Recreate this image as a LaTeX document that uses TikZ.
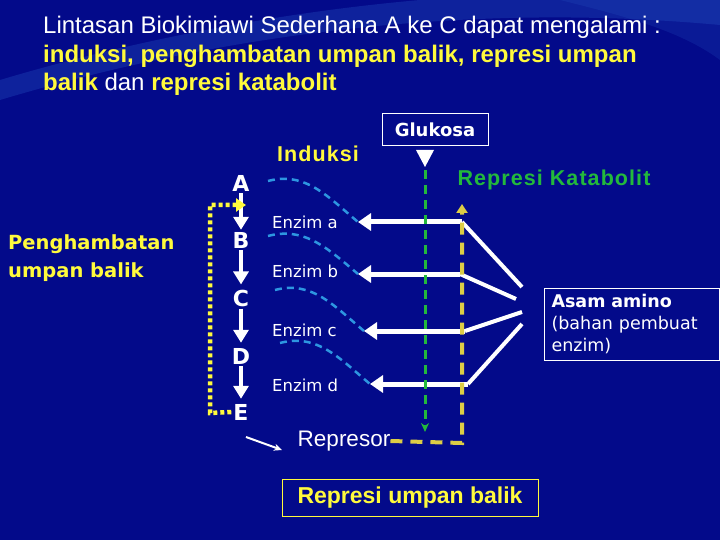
\documentclass[tikz,border=0pt]{standalone}
\usepackage{fontspec}
\setmainfont{Liberation Sans}
\newfontfamily\verd{DejaVu Sans}
\newfontfamily\wide[LetterSpace=5]{Liberation Sans}
\usetikzlibrary{arrows.meta}
\definecolor{bg}{RGB}{3,10,138}
\definecolor{bgl}{RGB}{40,90,200}
\definecolor{ylw}{RGB}{255,250,60}
\definecolor{gold}{RGB}{220,205,70}
\definecolor{grn}{RGB}{35,185,60}
\definecolor{lblue}{RGB}{45,150,225}
\begin{document}
\begin{tikzpicture}[x=1pt,y=-1pt,
ttl/.style = {anchor=base west,inner sep=0,white,font=\fontsize{24}{28}\selectfont},
ltr/.style = {white,inner sep=2pt,font=\verd\bfseries\fontsize{22}{22}\selectfont},
enz/.style = {white,anchor=west,inner sep=0,font=\verd\fontsize{16.5}{16.5}\selectfont},
box/.style = {draw=white,line width=1pt},
stp/.style = {draw,white,line width=4pt,-{Triangle[width=15pt,length=13pt]}},
enzar/.style = {draw,white,line width=5pt,-{Triangle[width=17pt,length=13pt]}},
wln/.style = {draw,white,line width=4pt},
ind/.style = {draw,lblue,line width=2.5pt,dash pattern=on 7pt off 5pt},
grnd/.style = {draw,grn,line width=3pt,dash pattern=on 9pt off 6pt,-{Stealth[length=9pt,width=8pt]}},
yld/.style = {draw,gold,line width=4pt,dash pattern=on 12pt off 8pt,-{Triangle[width=11pt,length=9pt]}},
ydot/.style = {draw,ylw,line width=4.5pt,dash pattern=on 4pt off 3pt,-{Triangle[width=13pt,length=10pt]}}
]
  \fill[bg] (0,0) rectangle (720,540);
  \fill[bgl,opacity=.3] (0,100) .. controls (200,40) and (450,0) .. (720,25) -- (720,0) -- (420,0) .. controls (250,15) and (100,50) .. (0,80) -- cycle;
  \fill[bgl,opacity=.2] (560,0) .. controls (620,15) and (680,30) .. (720,60) -- (720,0) -- cycle;

  \node[ttl] (t1) at (43,34) {Lintasan Biokimiawi Sederhana A ke C dapat mengalami :};
  \node[ttl,ylw,font=\bfseries\fontsize{24}{28}\selectfont] (t2) at (43,63) {induksi, penghambatan umpan balik, represi umpan};
  \node[ttl] (t3) at (43,91) {{\bfseries\color{ylw}balik} dan {\bfseries\color{ylw}represi katabolit}};

  \node[box,white,font=\verd\bfseries\fontsize{18}{18}\selectfont,minimum width=106,minimum height=32] (gk) at (435,130) {Glukosa};
  \node[ylw,font=\wide\bfseries\fontsize{21.5}{21.5}\selectfont] (ind) at (318,154) {Induksi};
  \node[grn,font=\wide\bfseries\fontsize{21.5}{21.5}\selectfont] (rk) at (554,180) {Represi Katabolit};

  \node[ltr] (A) at (241,183) {A};
  \node[ltr] (B) at (241,240) {B};
  \node[ltr] (C) at (241,298) {C};
  \node[ltr] (D) at (241,356) {D};
  \node[ltr] (E) at (241,412) {E};

  \node[ylw,align=left,anchor=base west,inner sep=0,font=\verd\bfseries\fontsize{19.5}{28}\selectfont] (pub) at (8,277) {Penghambatan\\umpan balik};

  \node[enz] (ea) at (272,222) {Enzim a};
  \node[enz] (eb) at (272,271) {Enzim b};
  \node[enz] (ec) at (272,330) {Enzim c};
  \node[enz] (ed) at (272,385) {Enzim d};

  \node[box,white,anchor=north west,align=left,inner xsep=7pt,text width=161,minimum height=72,font=\verd\fontsize{17.5}{22}\selectfont] (am) at (544,288) {{\bfseries Asam amino}\\(bahan pembuat\\enzim)};

  \node[white,inner sep=0,font=\fontsize{22.5}{22.5}\selectfont] (rp) at (344,441) {Represor};
  \node[box,ylw,minimum width=256,minimum height=37,font=\bfseries\fontsize{23}{23}\selectfont] (rub) at (410,498) {Represi umpan balik};

  \coordinate (ra) at (462,222);
  \coordinate (rb) at (460,274);
  \coordinate (rc) at (465,331);
  \coordinate (rd) at (468,384);
  \coordinate (ta) at (358,222);
  \coordinate (tb) at (358,274);
  \coordinate (tc) at (364,331);
  \coordinate (td) at (370,384);
  \coordinate (aa) at (522,287);
  \coordinate (ab) at (516,299);
  \coordinate (ac) at (522,312);
  \coordinate (ad) at (522,324);

  \path[ind] (268,181) to[out=15,in=140] (ta);
  \path[ind] (268,236) to[out=15,in=140] (tb);
  \path[ind] (275,290) to[out=15,in=140] (tc);
  \path[ind] (280,343) to[out=15,in=140] (td);

  \path[enzar] (ra) -- (ta);
  \path[enzar] (rb) -- (tb);
  \path[enzar] (rc) -- (tc);
  \path[enzar] (rd) -- (td);
  \path[wln] (ra) -- (aa);
  \path[wln] (rb) -- (ab);
  \path[wln] (rc) -- (ac);
  \path[wln] (rd) -- (ad);

  \path[grnd] (425,170) -- (425,432);
  \path[yld] (rp.east) -- (462,443) -- (462,204);

  \fill[white] (416,150) -- (434,150) -- (425,167) -- cycle;

  \path[stp] (A) -- (B);
  \path[stp,shorten >=3pt] (B) -- (C);
  \path[stp,shorten >=3pt] (C) -- (D);
  \path[stp,shorten >=3pt] (D) -- (E);

  \path[ydot] (E.west) -- (210,413) -- (210,205) -- (246,205);
  \path[draw,white,line width=2pt,-{Stealth[length=8pt,width=7pt]}] (246,437) -- (282,450);
\end{tikzpicture}
\end{document}
